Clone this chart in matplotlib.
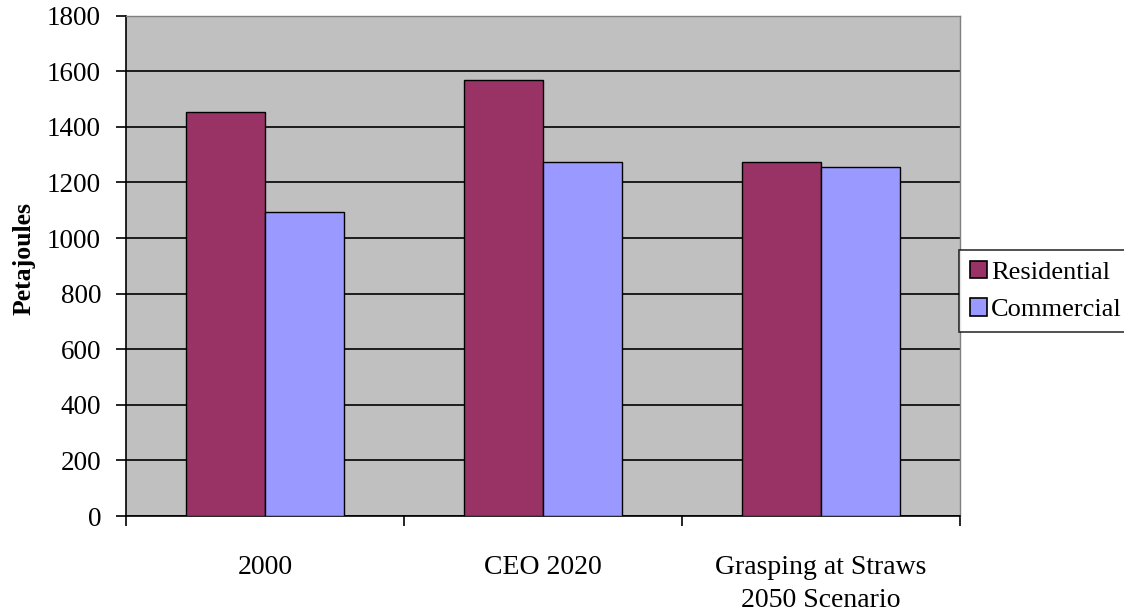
import numpy as np
import matplotlib.pyplot as plt
from matplotlib.patches import Patch

categories = ["2000", "CEO 2020", "Grasping at Straws\n2050 Scenario"]
residential = [1455, 1570, 1275]
commercial = [1095, 1275, 1255]
series_names = ["Residential", "Commercial"]
yticks = [0, 200, 400, 600, 800, 1000, 1200, 1400, 1600, 1800]

RES_COLOR = "#993366"
COM_COLOR = "#9999FF"
BG = "#C0C0C0"

plt.rcParams["font.family"] = ["Liberation Serif", "DejaVu Serif"]

fig = plt.figure(figsize=(11.24, 6.13), dpi=100)
ax = fig.add_axes([0.1121, 0.1582, 0.742, 0.8162])
ax.set_facecolor(BG)

x = np.arange(len(categories))
w = 1 / 3.5  # excel-style 150% gap width
ax.bar(x - w / 2, residential, w, color=RES_COLOR, edgecolor="black", linewidth=1.0, zorder=3)
ax.bar(x + w / 2, commercial, w, color=COM_COLOR, edgecolor="black", linewidth=1.0, zorder=3)

ax.set_xlim(-0.5, len(categories) - 0.5)
ax.set_ylim(0, 1800)
ax.set_yticks(yticks)
ax.set_yticklabels([str(v) for v in yticks], fontsize=19.5)
ax.yaxis.grid(True, color="black", linewidth=1.2, zorder=1)
ax.set_axisbelow(True)

ax.set_xticks(x)
ax.set_xticklabels(categories, fontsize=20, linespacing=1.45)
ax.set_xticks(np.arange(len(categories) + 1) - 0.5, minor=True)
ax.tick_params(axis="x", which="major", length=0, pad=28)
ax.tick_params(axis="x", which="minor", length=7, width=1.2, direction="out")
ax.tick_params(axis="y", length=7, width=1.2, direction="out", pad=11)

for side in ["left", "bottom"]:
    ax.spines[side].set_color("black")
    ax.spines[side].set_linewidth(1.2)
for side in ["top", "right"]:
    ax.spines[side].set_color("#808080")
    ax.spines[side].set_linewidth(1.0)

fig.text(0.021, 0.579, "Petajoules", rotation=90, fontsize=18.5, fontweight="bold",
         ha="center", va="center")

handles = [Patch(facecolor=RES_COLOR, edgecolor="black", linewidth=1.2),
           Patch(facecolor=COM_COLOR, edgecolor="black", linewidth=1.2)]
leg = fig.legend(handles, series_names, loc="upper left", bbox_to_anchor=(0.8535, 0.592),
                 fontsize=19, frameon=True, fancybox=False, edgecolor="black",
                 handlelength=0.65, handleheight=0.65, handletextpad=0.15,
                 borderpad=0.4, labelspacing=0.55, borderaxespad=0.0)
leg.get_frame().set_linewidth(1.2)

fig.savefig("out.png", dpi=100, facecolor="white")
